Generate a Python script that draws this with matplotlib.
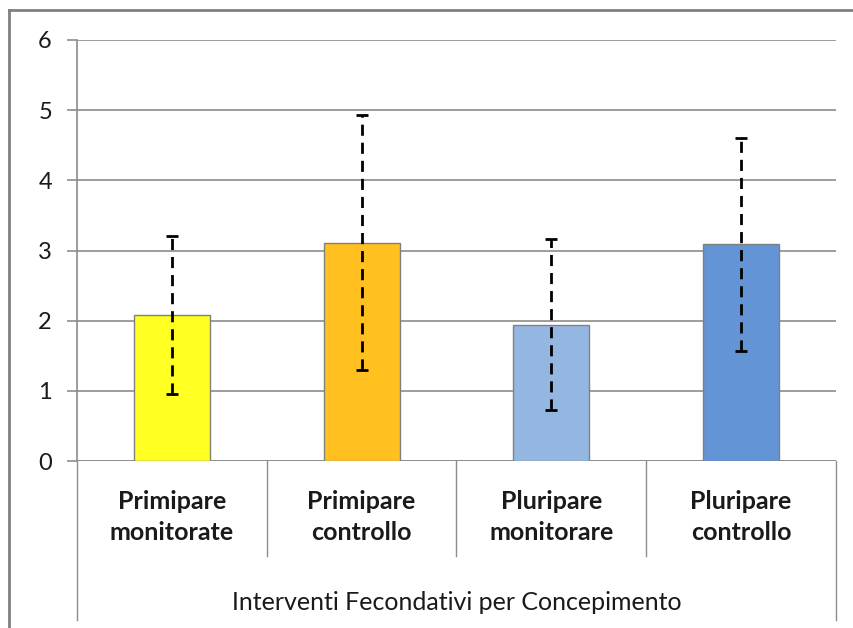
import matplotlib.pyplot as plt
import matplotlib.transforms as mtransforms
from matplotlib.lines import Line2D

plt.rcParams['font.family'] = ['Lato', 'DejaVu Sans']

# values
categories = ['Primipare\nmonitorate', 'Primipare\ncontrollo', 'Pluripare\nmonitorare', 'Pluripare\ncontrollo']
means = [2.08, 3.11, 1.94, 3.09]
errors = [1.12, 1.82, 1.22, 1.52]
colors = ['#FFFF22', '#FFC020', '#94B7E2', '#6394D6']
group_label = 'Interventi Fecondativi per Concepimento'

fig = plt.figure(figsize=(8.54, 6.28), dpi=100)
ax = fig.add_axes([77/854, 1-461/628, (836-77)/854, (461-40)/628])

x = list(range(len(categories)))
ax.bar(x, means, width=0.4, color=colors, edgecolor='#808080', linewidth=1, zorder=2)
eb = ax.errorbar(x, means, yerr=errors, fmt='none', ecolor='black', elinewidth=2,
                 capsize=4, capthick=2, zorder=3)
for lc in eb[2]:
    lc.set_linestyle((0, (4, 2.5)))

ax.set_xlim(-0.5, 3.5)
ax.set_ylim(0, 6)
ax.set_yticks(range(7))
ax.yaxis.grid(True, color='#8c8c8c', linewidth=1.2, zorder=0)
ax.set_axisbelow(True)
for s in ['top', 'right', 'bottom']:
    ax.spines[s].set_visible(False)
ax.spines['left'].set_color('#8c8c8c')
ax.spines['left'].set_linewidth(1.2)
ax.tick_params(axis='y', length=7, color='#8c8c8c', width=1.2, labelsize=17, pad=11,
               labelcolor='#1a1a1a')
ax.set_xticks([])
ax.axhline(0, color='#8c8c8c', linewidth=1.2, zorder=1)

# category separators and labels below the axis
trans = mtransforms.blended_transform_factory(ax.transData, ax.transAxes)
inner = -(556-461)/421
outer = -(620-461)/421
for b in [0.5, 1.5, 2.5]:
    ax.plot([b, b], [0, inner], transform=trans, color='#8c8c8c', lw=1, clip_on=False)
for b in [-0.5, 3.5]:
    ax.plot([b, b], [0, outer], transform=trans, color='#8c8c8c', lw=1, clip_on=False)
for i, lab in enumerate(categories):
    ax.text(i, -(517-461)/421, lab, transform=trans, ha='center', va='center',
            fontsize=18, fontweight='bold', linespacing=1.4, color='#1a1a1a')
ax.text(1.5, -(603-461)/421, group_label, transform=trans, ha='center', va='center',
        fontsize=18, color='#1a1a1a')

# outer chart border
fig.add_artist(Line2D([9/854, 9/854], [0, 1-10/628], color='#808080', lw=2))
fig.add_artist(Line2D([9/854, 1], [1-10/628, 1-10/628], color='#808080', lw=2))

fig.savefig('out.png', dpi=100)
